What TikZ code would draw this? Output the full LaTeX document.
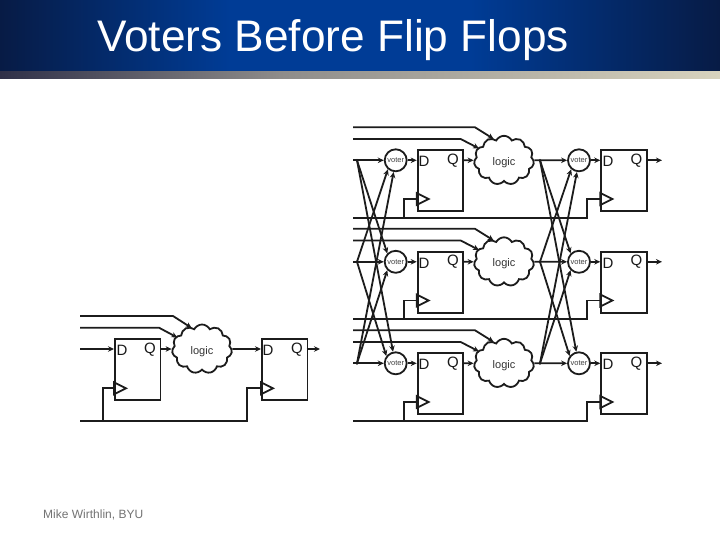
\documentclass[tikz,border=0pt]{standalone}
\usepackage{fontspec}
\setmainfont{Liberation Sans}
\usetikzlibrary{arrows.meta,shapes.symbols,calc}
\definecolor{wire}{HTML}{1C1C1C}
\definecolor{hdark}{HTML}{071B45}
\definecolor{hblue}{HTML}{003C96}
\definecolor{stripa}{HTML}{2F3048}
\definecolor{stripb}{HTML}{8E8C8A}
\definecolor{stripc}{HTML}{D8D3BE}
\newcommand{\logictext}{\raisebox{-5pt}[0pt][0pt]{logic}}
\tikzset{
  wirepath/.style={draw=wire,line width=1.8pt,line join=miter},
  arrowed/.style={wirepath,-{Stealth[length=6pt,width=5.5pt]}},
  ffbox/.style={draw=wire,line width=1.8pt,minimum width=45.5pt,minimum height=61pt,inner sep=0pt,anchor=north west},
  votercirc/.style={circle,draw=wire,line width=1.8pt,minimum size=22pt,inner sep=0pt,font=\fontsize{7.5}{8}\selectfont,text=black!75},
  logiccloud/.style={cloud,cloud puffs=11,cloud puff arc=125,aspect=1.2,draw=wire,line width=1.8pt,minimum width=60pt,minimum height=49pt,inner sep=0pt,font=\fontsize{11}{12}\selectfont,text=black!80},
  pinlabel/.style={font=\fontsize{15}{16}\selectfont,text=black!90,inner sep=0pt},
  dotmark/.style={circle,fill=wire,minimum size=3pt,inner sep=0pt},
}
\begin{document}
\begin{tikzpicture}[x=1pt,y=-1pt]
\useasboundingbox (0,0) rectangle (720,540);
% header
\fill[white] (0,0) rectangle (720,540);
\shade[left color=hdark,right color=hblue] (0,0) rectangle (230,72);
\fill[hblue] (229.5,0) rectangle (470.5,72);
\shade[left color=hblue,right color=hdark] (470,0) rectangle (720,72);
\shade[left color=stripa,right color=stripb] (0,72) rectangle (280,78.6);
\shade[left color=stripb,right color=stripc] (279.5,72) rectangle (720,78.6);
\node[anchor=base west,text=white,inner sep=0pt,font=\fontsize{44.2}{46}\selectfont] (title) at (97,52) {Voters Before Flip Flops};
\node[anchor=base west,text=black!55,inner sep=0pt,font=\fontsize{12}{14}\selectfont] (credit) at (43,518.5) {Mike Wirthlin, BYU};

% left simple circuit
\node[ffbox] (lf1) at (114,338) {};
\node[ffbox] (lf2) at (261,338) {};
\node[logiccloud] (ll) at (202,349) {\logictext};
\node[pinlabel] (ld1) at (122,350) {D};
\node[pinlabel] (lq1) at (150,349.5) {Q};
\node[pinlabel] (ld2) at (268,350) {D};
\node[pinlabel] (lq2) at (297,349.5) {Q};
\coordinate (ls1) at (80,316); \coordinate (lb1) at (173,316); \coordinate (le1) at (191.7,328);
\coordinate (ls2) at (80,327.7); \coordinate (lb2) at (159,327.7); \coordinate (le2) at (177.3,337.5);
\coordinate (ls3) at (80,349);
\coordinate (lclk) at (80,420.7);
\coordinate (lta) at (102.7,420.7); \coordinate (ltb) at (102.7,388.3); \coordinate (ltc) at (114,388.3);
\coordinate (lua) at (246.7,420.7); \coordinate (lub) at (246.7,388.3); \coordinate (luc) at (261,388.3);
\coordinate (lo) at (320,349);
\draw[arrowed] (ls1) -- (lb1) -- (le1);
\draw[arrowed] (ls2) -- (lb2) -- (le2);
\draw[arrowed] (ls3) -- (114,349);
\draw[arrowed] (160,349) -- (ll.west);
\draw[arrowed] (ll.east) -- (261,349);
\draw[arrowed] (306.5,349) -- (lo);
\draw[wirepath] (lclk) -- (lua) -- (lub) -- (luc);
\draw[wirepath] (lta) -- (ltb) -- (ltc);
\draw[wirepath] (ltc) ++(0,-6) -- ++(12,6) -- ++(-12,6) -- cycle;
\draw[wirepath] (luc) ++(0,-6) -- ++(12,6) -- ++(-12,6) -- cycle;

% triplicated circuit
\foreach \r/\dy in {1/0,2/101.5,3/203}{
  \node[votercirc] (va\r) at (395.7,160.3+\dy) {voter};
  \node[votercirc] (vb\r) at (579,160.3+\dy) {voter};
  \node[ffbox] (fa\r) at (416.7,149.3+\dy) {};
  \node[ffbox] (fb\r) at (600.3,149.3+\dy) {};
  \node[logiccloud] (lg\r) at (504,160.3+\dy) {\logictext};
  \node[pinlabel] (da\r) at (424,161.5+\dy) {D};
  \node[pinlabel] (qa\r) at (453,160.5+\dy) {Q};
  \node[pinlabel] (db\r) at (608,161.5+\dy) {D};
  \node[pinlabel] (qb\r) at (636.5,160.5+\dy) {Q};
  \coordinate (sa\r) at (353,127.3+\dy);
  \coordinate (ba\r) at (475,127.3+\dy);
  \coordinate (ea\r) at (493.7,139+\dy);
  \coordinate (sb\r) at (353,139+\dy);
  \coordinate (bb\r) at (460.7,139+\dy);
  \coordinate (eb\r) at (479,148.5+\dy);
  \coordinate (si\r) at (353,160.3+\dy);
  \coordinate (xa\r) at (357,160.3+\dy);
  \coordinate (xb\r) at (540,160.3+\dy);
  \coordinate (co\r) at (662,160.3+\dy);
  \coordinate (cs\r) at (353,217.7+\dy);
  \coordinate (ca\r) at (404.3,217.7+\dy);
  \coordinate (cb\r) at (404.3,199+\dy);
  \coordinate (cc\r) at (416.7,199+\dy);
  \coordinate (cd\r) at (586.7,217.7+\dy);
  \coordinate (ce\r) at (586.7,199+\dy);
  \coordinate (cf\r) at (600.3,199+\dy);
  \draw[arrowed] (sa\r) -- (ba\r) -- (ea\r);
  \draw[arrowed] (sb\r) -- (bb\r) -- (eb\r);
  \draw[arrowed] (si\r) -- (va\r);
  \draw[arrowed] (va\r) -- (fa\r.west |- va\r);
  \draw[arrowed] (fa\r.east |- va\r) -- (lg\r);
  \draw[arrowed] (lg\r) -- (vb\r);
  \draw[arrowed] (vb\r) -- (fb\r.west |- vb\r);
  \draw[arrowed] (fb\r.east |- vb\r) -- (co\r);
  \draw[wirepath] (cs\r) -- (cd\r) -- (ce\r) -- (cf\r);
  \draw[wirepath] (ca\r) -- (cb\r) -- (cc\r);
  \draw[wirepath] (cc\r) ++(0,-6) -- ++(12,6) -- ++(-12,6) -- cycle;
  \draw[wirepath] (cf\r) ++(0,-6) -- ++(12,6) -- ++(-12,6) -- cycle;
  \node[dotmark] at (xa\r) {};
  \node[dotmark] at (xb\r) {};
}
\foreach \p/\v in {xa/va,xb/vb}{
  \draw[arrowed] (\p2) -- (\v1.229);
  \draw[arrowed] (\p3) -- (\v1.260);
  \draw[arrowed] (\p1) -- (\v2.135);
  \draw[arrowed] (\p3) -- (\v2.225);
  \draw[arrowed] (\p2) -- (\v3.142);
  \draw[arrowed] (\p1) -- (\v3.103);
}
\end{tikzpicture}
\end{document}
